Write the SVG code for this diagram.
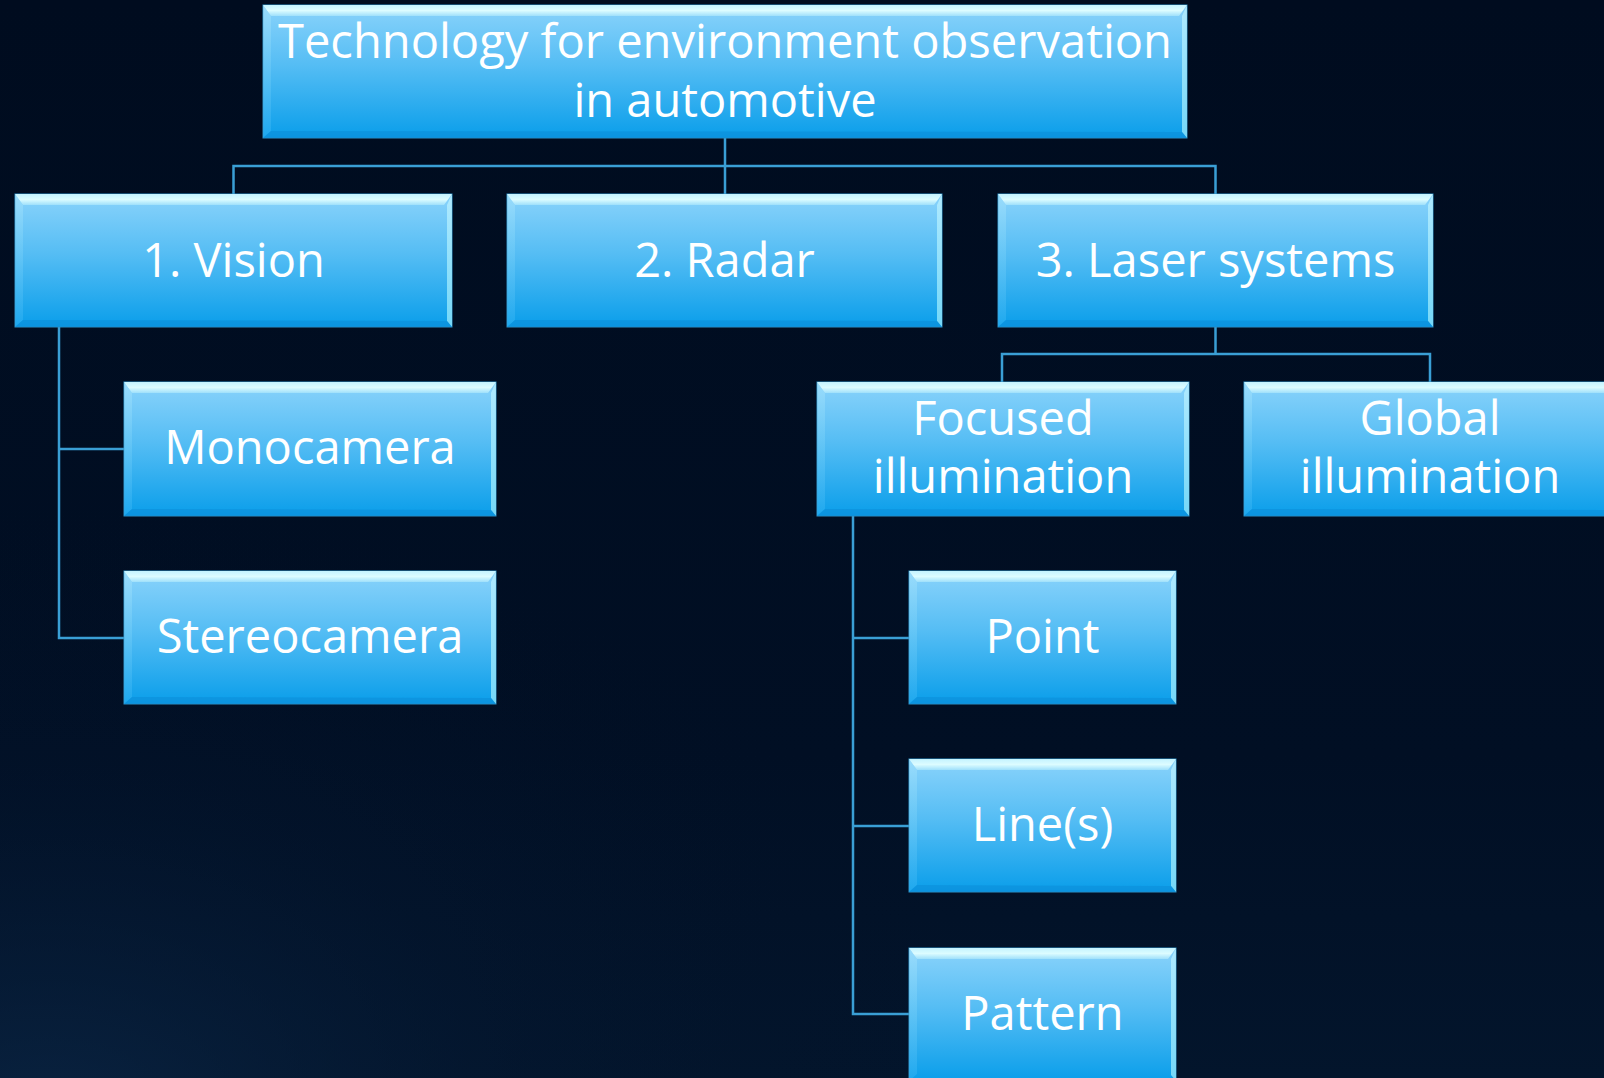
<svg xmlns="http://www.w3.org/2000/svg" width="1604" height="1078" viewBox="0 0 1604 1078">
<defs>
<linearGradient id="bg" x1="0" y1="0" x2="0" y2="1">
<stop offset="0" stop-color="#000c1f"/>
<stop offset="0.7" stop-color="#010f24"/>
<stop offset="1" stop-color="#03152c"/>
</linearGradient>
<radialGradient id="glow" cx="0.03" cy="1.05" r="0.6">
<stop offset="0" stop-color="#0b2747" stop-opacity="0.8"/>
<stop offset="0.5" stop-color="#051933" stop-opacity="0.3"/>
<stop offset="1" stop-color="#010f24" stop-opacity="0"/>
</radialGradient>
<linearGradient id="fill" x1="0" y1="0" x2="0" y2="1">
<stop offset="0" stop-color="#8ad3fb"/>
<stop offset="0.45" stop-color="#55bdf4"/>
<stop offset="1" stop-color="#0a9eea"/>
</linearGradient>
<linearGradient id="topb" x1="0" y1="0" x2="0" y2="1">
<stop offset="0" stop-color="#c4f3ff"/>
<stop offset="0.5" stop-color="#dcfcff"/>
<stop offset="1" stop-color="#9fe0fb"/>
</linearGradient>
<linearGradient id="leftb" x1="0" y1="0" x2="0" y2="1">
<stop offset="0" stop-color="#a8e4fc"/>
<stop offset="1" stop-color="#2eb0f2"/>
</linearGradient>
<linearGradient id="rightb" x1="0" y1="0" x2="0" y2="1">
<stop offset="0" stop-color="#b8efff"/>
<stop offset="1" stop-color="#8fe6fb"/>
</linearGradient>
</defs>
<style>
.box{fill:url(#fill);stroke:#2f8fc4;stroke-width:1}
.tb{fill:url(#topb)}
.lb{fill:url(#leftb);opacity:0.55}
.rb{fill:url(#rightb);opacity:0.8}
.bb{fill:#0b8ed8;opacity:0.6}
.lbl{font-family:"Open Sans","Noto Sans","DejaVu Sans",sans-serif;font-size:47px;fill:#ffffff;text-anchor:middle}
.conn{fill:none;stroke:#3a9fd5;stroke-width:2.5}
</style>
<rect x="0" y="0" width="1604" height="1078" fill="url(#bg)"/>
<rect x="0" y="0" width="1604" height="1078" fill="url(#glow)"/>

<g id="connectors">
<path class="conn" d="M725 138 V166 M233.5 194 V166 H1215.5 V194 M725 166 V194"/>
<path class="conn" d="M59 327 V638 H124 M59 449 H124"/>
<path class="conn" d="M1215.5 327 V354 M1002 382 V354 H1430 V382"/>
<path class="conn" d="M853 516 V1014 H909 M853 638 H909 M853 826 H909"/>
</g>

<g id="node-root">
<rect class="box" x="263" y="5" width="924" height="133"/>
<polygon class="tb" points="263,5 1187,5 1179,16 271,16"/>
<polygon class="lb" points="263,5 271,16 271,131 263,138"/>
<polygon class="rb" points="1187,5 1187,138 1182,132 1182,16"/>
<polygon class="bb" points="263,138 271,131 1182,132 1187,138"/>
<text class="lbl" x="725" y="58" textLength="894" lengthAdjust="spacingAndGlyphs">Technology for environment observation</text>
<text class="lbl" x="725" y="117">in automotive</text>
</g>

<g id="node-vision">
<rect class="box" x="15" y="194" width="437" height="133"/>
<polygon class="tb" points="15,194 452,194 444,205 23,205"/>
<polygon class="lb" points="15,194 23,205 23,320 15,327"/>
<polygon class="rb" points="452,194 452,327 447,321 447,205"/>
<polygon class="bb" points="15,327 23,320 447,321 452,327"/>
<text class="lbl" x="233.5" y="277">1. Vision</text>
</g>

<g id="node-radar">
<rect class="box" x="507" y="194" width="435" height="133"/>
<polygon class="tb" points="507,194 942,194 934,205 515,205"/>
<polygon class="lb" points="507,194 515,205 515,320 507,327"/>
<polygon class="rb" points="942,194 942,327 937,321 937,205"/>
<polygon class="bb" points="507,327 515,320 937,321 942,327"/>
<text class="lbl" x="724.5" y="277">2. Radar</text>
</g>

<g id="node-laser">
<rect class="box" x="998" y="194" width="435" height="133"/>
<polygon class="tb" points="998,194 1433,194 1425,205 1006,205"/>
<polygon class="lb" points="998,194 1006,205 1006,320 998,327"/>
<polygon class="rb" points="1433,194 1433,327 1428,321 1428,205"/>
<polygon class="bb" points="998,327 1006,320 1428,321 1433,327"/>
<text class="lbl" x="1215.5" y="277">3. Laser systems</text>
</g>

<g id="node-mono">
<rect class="box" x="124" y="382" width="372" height="134"/>
<polygon class="tb" points="124,382 496,382 488,393 132,393"/>
<polygon class="lb" points="124,382 132,393 132,509 124,516"/>
<polygon class="rb" points="496,382 496,516 491,510 491,393"/>
<polygon class="bb" points="124,516 132,509 491,510 496,516"/>
<text class="lbl" x="310" y="464">Monocamera</text>
</g>

<g id="node-stereo">
<rect class="box" x="124" y="571" width="372" height="133"/>
<polygon class="tb" points="124,571 496,571 488,582 132,582"/>
<polygon class="lb" points="124,571 132,582 132,697 124,704"/>
<polygon class="rb" points="496,571 496,704 491,698 491,582"/>
<polygon class="bb" points="124,704 132,697 491,698 496,704"/>
<text class="lbl" x="310" y="653">Stereocamera</text>
</g>

<g id="node-focused">
<rect class="box" x="817" y="382" width="372" height="134"/>
<polygon class="tb" points="817,382 1189,382 1181,393 825,393"/>
<polygon class="lb" points="817,382 825,393 825,509 817,516"/>
<polygon class="rb" points="1189,382 1189,516 1184,510 1184,393"/>
<polygon class="bb" points="817,516 825,509 1184,510 1189,516"/>
<text class="lbl" x="1003" y="435">Focused</text>
<text class="lbl" x="1003" y="493">illumination</text>
</g>

<g id="node-global">
<rect class="box" x="1244" y="382" width="372" height="134"/>
<polygon class="tb" points="1244,382 1616,382 1608,393 1252,393"/>
<polygon class="lb" points="1244,382 1252,393 1252,509 1244,516"/>
<polygon class="bb" points="1244,516 1252,509 1611,510 1616,516"/>
<text class="lbl" x="1430" y="435">Global</text>
<text class="lbl" x="1430" y="493">illumination</text>
</g>

<g id="node-point">
<rect class="box" x="909" y="571" width="267" height="133"/>
<polygon class="tb" points="909,571 1176,571 1168,582 917,582"/>
<polygon class="lb" points="909,571 917,582 917,697 909,704"/>
<polygon class="rb" points="1176,571 1176,704 1171,698 1171,582"/>
<polygon class="bb" points="909,704 917,697 1171,698 1176,704"/>
<text class="lbl" x="1042.5" y="653">Point</text>
</g>

<g id="node-lines">
<rect class="box" x="909" y="759" width="267" height="133"/>
<polygon class="tb" points="909,759 1176,759 1168,770 917,770"/>
<polygon class="lb" points="909,759 917,770 917,885 909,892"/>
<polygon class="rb" points="1176,759 1176,892 1171,886 1171,770"/>
<polygon class="bb" points="909,892 917,885 1171,886 1176,892"/>
<text class="lbl" x="1042.5" y="841">Line(s)</text>
</g>

<g id="node-pattern">
<rect class="box" x="909" y="948" width="267" height="133"/>
<polygon class="tb" points="909,948 1176,948 1168,959 917,959"/>
<polygon class="lb" points="909,948 917,959 917,1074 909,1081"/>
<polygon class="rb" points="1176,948 1176,1081 1171,1075 1171,959"/>
<text class="lbl" x="1042.5" y="1030">Pattern</text>
</g>
</svg>
